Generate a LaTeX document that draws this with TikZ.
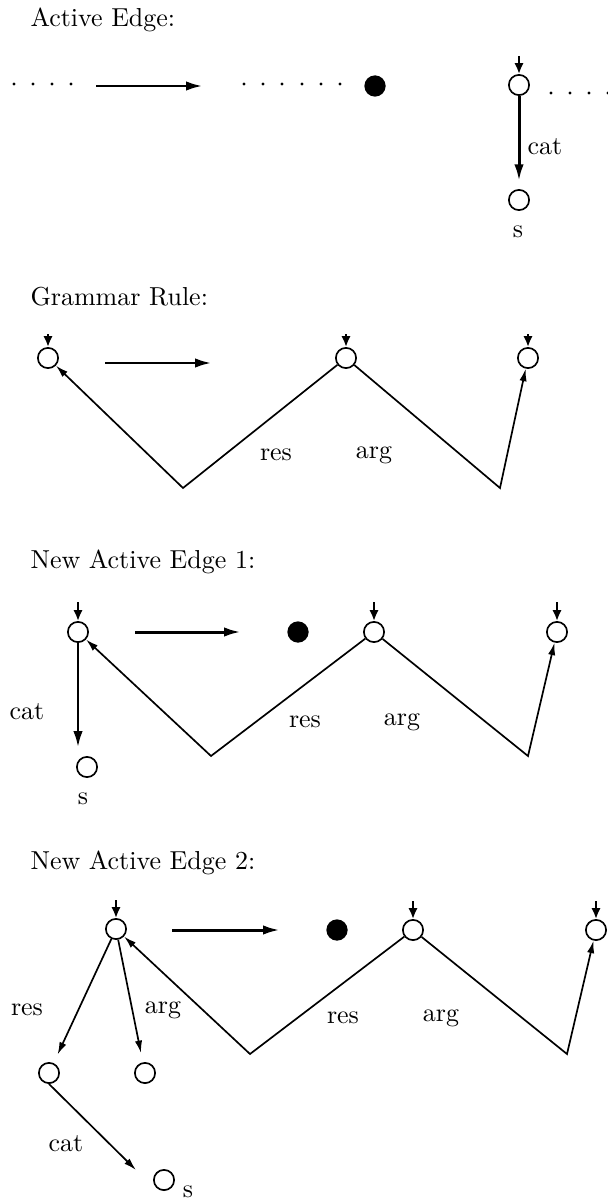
\documentclass[tikz,border=0pt]{standalone}
\usetikzlibrary{arrows.meta}
\begin{document}
\begin{tikzpicture}[x=0.385pt,y=-0.385pt,
  oc/.style={circle,draw,line width=0.65pt,inner sep=0pt,minimum size=7.8pt},
  fc/.style={circle,fill,inner sep=0pt,minimum size=8.2pt},
  dotpt/.style={circle,fill,inner sep=0pt,minimum size=1.3pt},
  bigarrow/.style={line width=1.15pt,-{Latex[length=6.5pt,width=3.6pt]}},
  thinarrow/.style={line width=0.65pt,-{Latex[length=4.8pt,width=2.8pt]}},
  toparrow/.style={line width=1.1pt,-{Latex[length=4.2pt,width=3.6pt]}},
  lbl/.style={inner sep=0pt},
  ttl/.style={anchor=base west,inner sep=0pt}]
\useasboundingbox (0,0) rectangle (608,1201);

% ---------- Section 1: Active Edge ----------
\node[ttl] (t1) at (30,27) {Active Edge:};
\foreach \x [count=\i] in {14,33,52,71} \node[dotpt] (ld\i) at (\x,84) {};
\coordinate (a1s) at (96,86); \coordinate (a1e) at (203,86);
\draw[bigarrow] (a1s) -- (a1e);
\foreach \x [count=\i] in {244,263,282,302,321,340} \node[dotpt] (md\i) at (\x,84) {};
\node[fc] (f1) at (375,86) {};
\node[oc] (c1) at (519,85) {};
\coordinate (c1t) at (519,56);
\draw[toparrow] (c1t) -- (c1);
\node[oc] (c1s) at (519,200) {};
\draw[bigarrow,shorten >=3pt] (c1) -- (c1s);
\node[lbl] (cat1) at (545,147) {cat};
\node[lbl] (s1) at (518,232) {s};
\foreach \x [count=\i] in {551,570,589,608} \node[dotpt] (rd\i) at (\x,93) {};

% ---------- Section 2: Grammar Rule ----------
\node[ttl] (t2) at (30,305) {Grammar Rule:};
\node[oc] (g1) at (48,358) {};
\node[oc] (g2) at (346,358) {};
\node[oc] (g3) at (528,358) {};
\coordinate (g1t) at (48,334); \draw[toparrow] (g1t) -- (g1);
\coordinate (g2t) at (346,334); \draw[toparrow] (g2t) -- (g2);
\coordinate (g3t) at (528,334); \draw[toparrow] (g3t) -- (g3);
\coordinate (a2s) at (105,363); \coordinate (a2e) at (212,363);
\draw[bigarrow] (a2s) -- (a2e);
\coordinate (gv1) at (183,488); \coordinate (gv2) at (500,488);
\draw[thinarrow] (g2) -- (gv1) -- (g1);
\draw[thinarrow] (g2) -- (gv2) -- (g3);
\node[lbl] (res2) at (276,455) {res};
\node[lbl] (arg2) at (374,455) {arg};

% ---------- Section 3: New Active Edge 1 ----------
\node[ttl] (t3) at (30,568) {New Active Edge 1:};
\node[oc] (n1) at (78,632) {};
\node[fc] (f3) at (298,632) {};
\node[oc] (n2) at (374,632) {};
\node[oc] (n3) at (557,632) {};
\coordinate (n1t) at (78,602); \draw[toparrow] (n1t) -- (n1);
\coordinate (n2t) at (374,602); \draw[toparrow] (n2t) -- (n2);
\coordinate (n3t) at (557,602); \draw[toparrow] (n3t) -- (n3);
\coordinate (a3s) at (135,632); \coordinate (a3e) at (241,632);
\draw[bigarrow] (a3s) -- (a3e);
\coordinate (nv1) at (211,756); \coordinate (nv2) at (528,756);
\draw[thinarrow] (n2) -- (nv1) -- (n1);
\draw[thinarrow] (n2) -- (nv2) -- (n3);
\coordinate (n1e) at (78,748);
\draw[bigarrow] (n1) -- (n1e);
\node[oc] (n1s) at (87,767) {};
\node[lbl] (cat3) at (27,712) {cat};
\node[lbl] (s3) at (83,799) {s};
\node[lbl] (res3) at (305,722) {res};
\node[lbl] (arg3) at (402,722) {arg};

% ---------- Section 4: New Active Edge 2 ----------
\node[ttl] (t4) at (30,869) {New Active Edge 2:};
\node[oc] (m1) at (116,929) {};
\node[fc] (f4) at (337,930) {};
\node[oc] (m2) at (413,930) {};
\node[oc] (m3) at (596,930) {};
\coordinate (m1t) at (116,900); \draw[toparrow] (m1t) -- (m1);
\coordinate (m2t) at (413,901); \draw[toparrow] (m2t) -- (m2);
\coordinate (m3t) at (596,901); \draw[toparrow] (m3t) -- (m3);
\coordinate (a4s) at (172,930); \coordinate (a4e) at (280,930);
\draw[bigarrow] (a4s) -- (a4e);
\coordinate (mv1) at (250,1054); \coordinate (mv2) at (567,1054);
\draw[thinarrow] (m2) -- (mv1) -- (m1);
\draw[thinarrow] (m2) -- (mv2) -- (m3);
\node[oc] (ml) at (49,1073) {};
\node[oc] (mm) at (145,1073) {};
\node[oc] (mb) at (164,1180) {};
\draw[thinarrow,shorten >=3.6pt] (m1) -- (ml);
\draw[thinarrow,shorten >=3.6pt] (m1) -- (mm);
\coordinate (cate) at (136,1170);
\draw[thinarrow] (ml.south) -- (cate);
\node[lbl] (res4a) at (27,1010) {res};
\node[lbl] (arg4a) at (163,1010) {arg};
\node[lbl] (cat4) at (66,1144) {cat};
\node[lbl] (s4) at (188,1192) {s};
\node[lbl] (res4) at (343,1018) {res};
\node[lbl] (arg4) at (441,1018) {arg};
\end{tikzpicture}
\end{document}
